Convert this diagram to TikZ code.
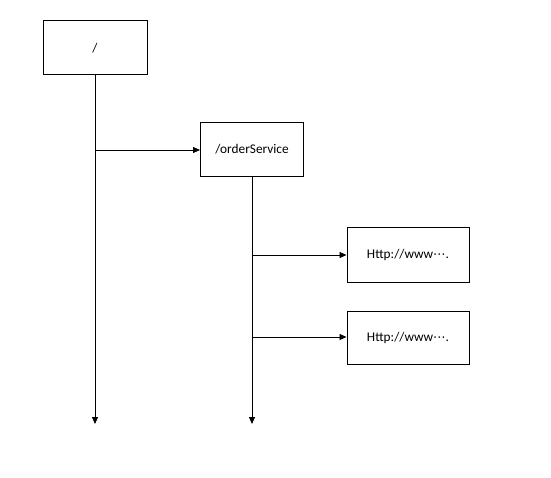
\documentclass[tikz,border=0pt]{standalone}
\usepackage{fontspec}
\setmainfont{Carlito}
\newfontfamily\dv{DejaVu Sans}
\usetikzlibrary{arrows.meta}
\newcommand{\midell}{{\dv\fontsize{12.5}{14}\selectfont ⋯}}
\begin{document}
\begin{tikzpicture}[x=1pt,y=-1pt,
  box/.style={draw=black,line width=1pt,minimum width=#1,inner sep=0pt,font=\fontsize{13.3}{15}\selectfont},
  box/.default=104pt,
  conn/.style={line width=0.8pt,-{Triangle[length=7pt,width=6pt]}}]
\useasboundingbox (0,0) rectangle (551,478);
\node[box=104pt,minimum height=54pt] (root) at (95,48) {/};
\node[box=103pt,minimum height=54pt] (order) at (252,149.5) {/orderService};
\node[box=122pt,minimum height=54pt] (h1) at (408,255) {Http://www\midell.};
\node[box=122pt,minimum height=53pt] (h2) at (408,337.5) {Http://www\midell.};
\coordinate (e1) at (95,424);
\coordinate (e2) at (252,424);
\coordinate (b1) at (95,150);
\coordinate (b2) at (252,255);
\coordinate (b3) at (252,337);
\draw[conn] (root.south) -- (e1);
\draw[conn] (order.south) -- (e2);
\draw[conn] (b1) -- (b1 -| order.west);
\draw[conn] (b2) -- (h1.west);
\draw[conn] (b3) -- (b3 -| h2.west);
\end{tikzpicture}
\end{document}
